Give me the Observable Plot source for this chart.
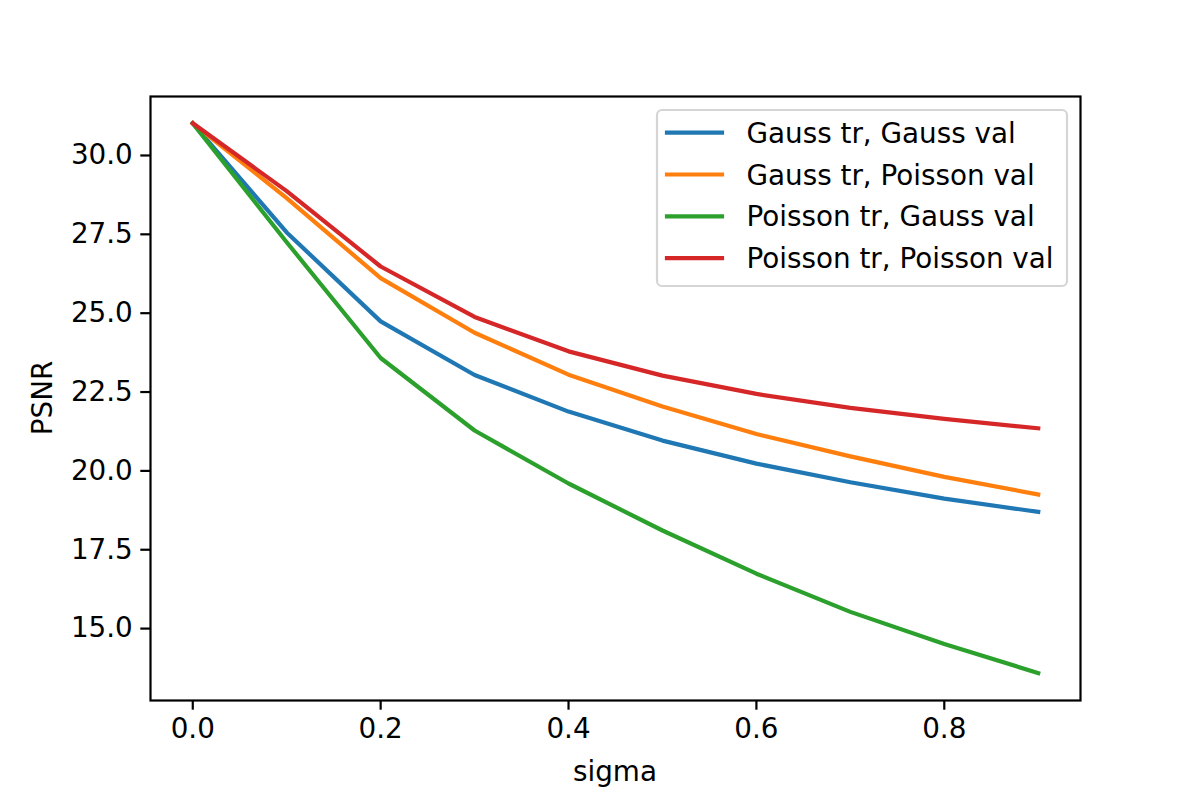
<!DOCTYPE html>
<html>
<head>
<meta charset="utf-8">
<script src="https://cdn.jsdelivr.net/npm/d3@7"></script>
<script src="https://cdn.jsdelivr.net/npm/@observablehq/plot@0.6"></script>
<style>
  html, body { margin: 0; padding: 0; background: #fff; }
  #chart svg { display: block; }
</style>
</head>
<body>
<div id="chart"></div>
<script>
const sigma = [0.0, 0.1, 0.2, 0.3, 0.4, 0.5, 0.6, 0.7, 0.8, 0.9];
const seriesNames = ["Gauss tr, Gauss val", "Gauss tr, Poisson val", "Poisson tr, Gauss val", "Poisson tr, Poisson val"];
const seriesColors = ["#1f77b4", "#ff7f0e", "#2ca02c", "#d62728"];
const gaussTrGaussVal = [31.02, 27.56, 24.74, 23.04, 21.88, 20.96, 20.23, 19.64, 19.12, 18.70];
const gaussTrPoissonVal = [31.02, 28.65, 26.11, 24.38, 23.05, 22.04, 21.17, 20.46, 19.81, 19.25];
const poissonTrGaussVal = [31.02, 27.25, 23.58, 21.28, 19.60, 18.11, 16.74, 15.53, 14.51, 13.59];
const poissonTrPoissonVal = [31.02, 28.87, 26.48, 24.88, 23.79, 23.02, 22.44, 22.00, 21.65, 21.35];
const xTicks = [0.0, 0.2, 0.4, 0.6, 0.8];
const yTicks = [15.0, 17.5, 20.0, 22.5, 25.0, 27.5, 30.0];

const allSeries = [gaussTrGaussVal, gaussTrPoissonVal, poissonTrGaussVal, poissonTrPoissonVal];
const rows = [];
allSeries.forEach((vals, i) => {
  vals.forEach((v, j) => rows.push({sigma: sigma[j], psnr: v, series: seriesNames[i]}));
});

const W = 1200, H = 800;
const mL = 150, mR = 120, mT = 96, mB = 100;
const FS = 27.8;

const chart = Plot.plot({
  width: W,
  height: H,
  marginLeft: mL,
  marginRight: mR,
  marginTop: mT,
  marginBottom: mB,
  style: {fontFamily: "DejaVu Sans, sans-serif", fontSize: FS + "px", color: "#000", background: "#fff"},
  x: {domain: [-0.045, 0.945]},
  y: {domain: [12.72, 31.87]},
  color: {domain: seriesNames, range: seriesColors},
  marks: [
    Plot.line(rows, {x: "sigma", y: "psnr", z: "series", stroke: "series", strokeWidth: 4.2, strokeLinejoin: "round", strokeLinecap: "square"}),
    Plot.frame({stroke: "#000", strokeWidth: 2.2}),
    Plot.axisX({ticks: xTicks, tickFormat: d3.format(".1f"), tickSize: 9.7, tickPadding: 8, strokeWidth: 2.2, label: null, fontSize: FS}),
    Plot.axisY({ticks: yTicks, tickFormat: d3.format(".1f"), tickSize: 9.7, tickPadding: 8, strokeWidth: 2.2, label: null, fontSize: FS})
  ]
});

document.getElementById("chart").appendChild(chart);

const svg = d3.select(chart);
// axis labels
svg.append("text")
  .attr("x", mL + (W - mL - mR) / 2).attr("y", 781)
  .attr("text-anchor", "middle")
  .attr("font-family", "DejaVu Sans, sans-serif").attr("font-size", FS)
  .attr("fill", "#000")
  .text("sigma");
svg.append("text")
  .attr("transform", `translate(52,${mT + (H - mT - mB) / 2}) rotate(-90)`)
  .attr("text-anchor", "middle")
  .attr("font-family", "DejaVu Sans, sans-serif").attr("font-size", FS)
  .attr("fill", "#000")
  .text("PSNR");

// legend
const lg = svg.append("g");
lg.append("rect")
  .attr("x", 657).attr("y", 110).attr("width", 410).attr("height", 176)
  .attr("rx", 5).attr("ry", 5)
  .attr("fill", "#fff").attr("fill-opacity", 0.8)
  .attr("stroke", "#d5d5d5").attr("stroke-width", 2.2);
seriesNames.forEach((name, i) => {
  const cy = 132.7 + i * 41.8;
  lg.append("line")
    .attr("x1", 667).attr("x2", 722).attr("y1", cy).attr("y2", cy)
    .attr("stroke", seriesColors[i]).attr("stroke-width", 4.2).attr("stroke-linecap", "square");
  lg.append("text")
    .attr("x", 746.5).attr("y", cy + 10)
    .attr("text-anchor", "start")
    .attr("font-family", "DejaVu Sans, sans-serif").attr("font-size", FS)
    .attr("fill", "#000")
    .text(name);
});
</script>
</body>
</html>
